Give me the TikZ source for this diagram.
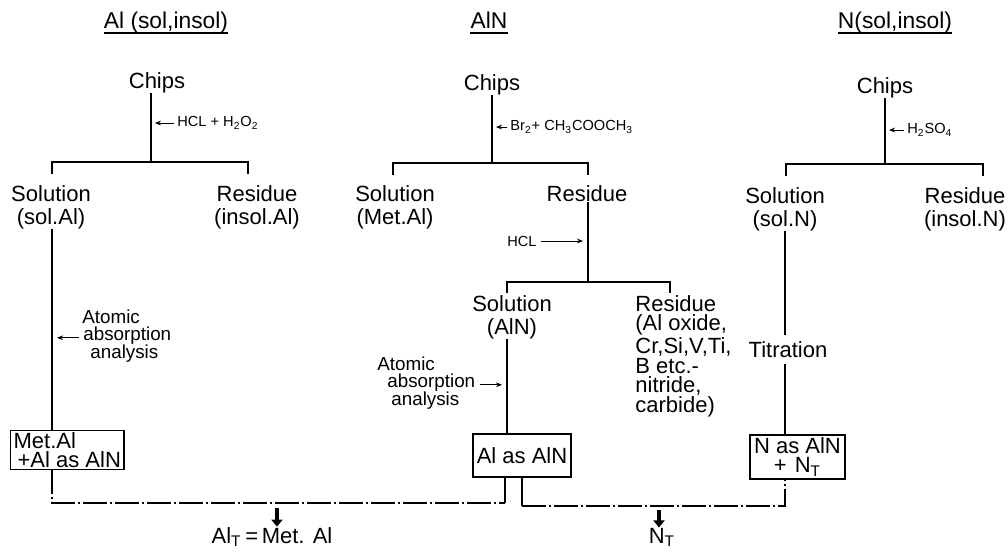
\documentclass[tikz,border=0pt]{standalone}
\usepackage{fontspec}
\setmainfont{Liberation Sans}
\usetikzlibrary{arrows.meta}
\begin{document}
\begin{tikzpicture}[x=0.5pt,y=-0.5pt,
  ttl/.style={font=\fontsize{11}{12}\selectfont, inner sep=0pt, anchor=base},
  lbl/.style={font=\fontsize{11}{11.5}\selectfont, inner sep=0pt, align=center},
  sml/.style={font=\fontsize{7.3}{8}\selectfont, inner sep=0pt},
  mid/.style={font=\fontsize{9.4}{8.8}\selectfont, inner sep=0pt, align=left},
  ln/.style={line width=0.9pt},
  ul/.style={line width=0.6pt},
  sarrow/.style={line width=0.5pt, -{Stealth[length=3pt,width=2.4pt]}},
  dd/.style={line width=0.9pt, dash pattern=on 12pt off 1.5pt on 1pt off 1.5pt},
  box/.style={draw, line width=0.6pt, inner xsep=1.5pt, inner ysep=1pt, font=\fontsize{11}{9.5}\selectfont},
  bigarrow/.style={line width=2.2pt, -{Triangle[length=3.5pt,width=5.5pt]}}
]
\useasboundingbox (0,0) rectangle (1008,554);

% ---------- titles ----------
\node[ttl, font=\fontsize{11.4}{12}\selectfont] (t1) at (166,28) {Al (sol,insol)};
\node[ttl, font=\fontsize{11.4}{12}\selectfont] (t2) at (489,28) {AlN};
\node[ttl, font=\fontsize{11.4}{12}\selectfont] (t3) at (895,28) {N(sol,insol)};
\foreach \t in {t1,t2,t3}
  \draw[ul] ([yshift=-2.5pt]\t.base west) -- ([yshift=-2.5pt]\t.base east);

% ---------- column 1 ----------
\node[ttl] (c1) at (157,88) {Chips};
\coordinate (j1) at (151,162);
\draw[ln] (c1.south -| j1) -- (j1);
\node[sml, anchor=west] (r1) at (177,123) {HCL + H\textsubscript{2}O\textsubscript{2}};
\draw[sarrow] ([xshift=-1.5pt]r1.west) -- ([xshift=2pt]r1.west -| j1);
\coordinate (b1l) at (52,174);
\coordinate (b1r) at (248,174);
\draw[ln] (b1l) -- (b1l |- j1) -- (b1r |- j1) -- (b1r);
\node[lbl, anchor=north] (s1) at (51,185) {Solution\\(sol.Al)};
\node[lbl, anchor=north] (r1b) at (257,185) {Residue\\(insol.Al)};
\node[mid, anchor=north west] (a1) at (82,309) {Atomic\\\hspace*{0.5pt}absorption\\\hspace*{4pt}analysis};
\node[box, anchor=north west, align=left] (m1) at (10,430) {Met.Al\\\hspace*{2pt}+Al as AlN};
\coordinate (x1) at (52,503);
\draw[ln] (s1.south -| x1) -- (m1.north -| x1);
\draw[sarrow] ([xshift=-1.5pt,yshift=-1pt]a1.west) -- ([xshift=2.5pt,yshift=-1pt]a1.west -| x1);

% ---------- column 2 ----------
\node[ttl] (c2) at (492,90) {Chips};
\coordinate (j2) at (492,163);
\draw[ln] (c2.south -| j2) -- (j2);
\node[sml, anchor=west] (r2) at (510,127) {Br\textsubscript{2}+ CH\textsubscript{3}COOCH\textsubscript{3}};
\draw[sarrow] ([xshift=-1.5pt]r2.west) -- ([xshift=2pt]r2.west -| j2);
\coordinate (b2l) at (393,175);
\coordinate (b2r) at (588,175);
\draw[ln] (b2l) -- (b2l |- j2) -- (b2r |- j2) -- (b2r);
\node[lbl, anchor=north] (s2) at (395,185) {Solution\\(Met.Al)};
\node[lbl, anchor=north] (r2b) at (587,185) {Residue};
\coordinate (j3) at (588,282);
\draw[ln] (r2b.south -| j3) -- (j3);
\node[sml, anchor=east] (h2) at (537,241) {HCL};
\draw[sarrow] ([xshift=2pt]h2.east) -- ([xshift=-2.5pt]h2.east -| j3);
\coordinate (b3l) at (507,293);
\coordinate (b3r) at (670,293);
\draw[ln] (b3l) -- (b3l |- j3) -- (b3r |- j3) -- (b3r);
\node[lbl, anchor=north] (s3) at (512,295) {Solution\\(AlN)};
\node[lbl, anchor=north west, align=left, font=\fontsize{11}{9.8}\selectfont] (r3) at (635,295)
  {Residue\\(Al oxide,\\Cr,Si,V,Ti,\\B etc.-\\nitride,\\carbide)};
\node[mid, anchor=north west] (a2) at (377,356) {Atomic\\\hspace*{5pt}absorption\\\hspace*{7pt}analysis};
\node[box, minimum width=49pt, minimum height=21.5pt] (m2) at (522,455.5) {Al as AlN};
\coordinate (x2) at (507,400);
\draw[ln] (s3.south -| x2) -- (m2.north -| x2);
\draw[sarrow] ([xshift=2pt,yshift=-1pt]a2.east) -- ([xshift=-2.5pt,yshift=-1pt]a2.east -| x2);

% ---------- column 3 ----------
\node[ttl] (c3) at (885,93) {Chips};
\coordinate (j4) at (885,164);
\draw[ln] (c3.south -| j4) -- (j4);
\node[sml, anchor=west] (r4) at (907,130) {H\textsubscript{2}SO\textsubscript{4}};
\draw[sarrow] ([xshift=-1.5pt]r4.west) -- ([xshift=2pt]r4.west -| j4);
\coordinate (b4l) at (786,176);
\coordinate (b4r) at (983,176);
\draw[ln] (b4l) -- (b4l |- j4) -- (b4r |- j4) -- (b4r);
\node[lbl, anchor=north] (s4) at (785,187) {Solution\\(sol.N)};
\node[lbl, anchor=north] (r4b) at (965,187) {Residue\\(insol.N)};
\coordinate (x3) at (785,400);
\node[ttl] (ti) at (788,357) {Titration};
\draw[ln] (s4.south -| x3) -- ([yshift=3pt]ti.north -| x3);
\node[box, align=center, minimum width=47.5pt, minimum height=22pt] (m3) at (797.5,457) {N as AlN\\+\hspace{4pt}N\textsubscript{T}};
\draw[ln] ([yshift=-3pt]ti.south -| x3) -- (m3.north -| x3);

% ---------- bottom collection ----------
\coordinate (k1) at (505,503);
\coordinate (k2) at (522,506);
\draw[dd] (m1.south -| x1) -- (x1) -- (k1);
\draw[ln] (m2.south -| k1) -- (k1);
\draw[ln] (m2.south -| k2) -- (k2);
\draw[dd] (k2) -- (k2 -| x3) -- (m3.south -| x3);

\node[ttl] (f1) at (272,543) {Al\textsubscript{T}\,=\,Met. Al};
\node[ttl] (f2) at (662,543) {N\textsubscript{T}};
\draw[bigarrow] (277,508 |- x1) ++(0,5) coordinate (ga) -- (f1.north -| ga);
\draw[bigarrow] (659,508 |- k2) ++(0,4) coordinate (gb) -- (f2.north -| gb);
\end{tikzpicture}
\end{document}
